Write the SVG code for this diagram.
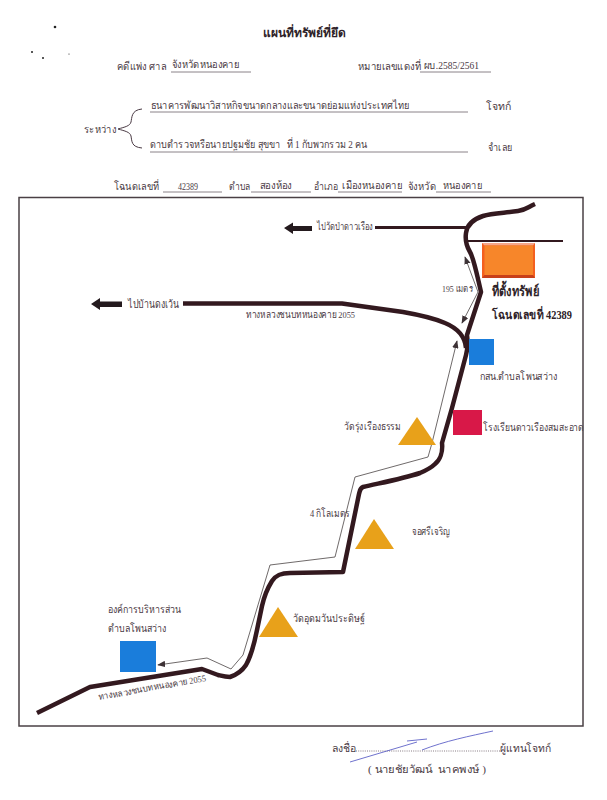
<svg xmlns="http://www.w3.org/2000/svg" width="607" height="800" viewBox="0 0 607 800">
<style>
text{font-family:"Liberation Serif","Noto Sans CJK SC","Noto Sans",serif;font-size:10.5px;fill:#4a3a44}
.b{font-weight:bold;fill:#2e2228}
.u{stroke:#8a8288;stroke-width:1;fill:none}
.road{fill:none;stroke:#33191f;stroke-width:4.500;stroke-linejoin:round;stroke-linecap:butt}
.thin{fill:none;stroke:#4a4444;stroke-width:.8}
.tri{fill:#e8a11a}
.blue{fill:#1a7ddb}
</style>
<defs>
<marker id="a" viewBox="0 0 10 8" refX="9" refY="4" markerWidth="8" markerHeight="6.5" orient="auto-start-reverse" markerUnits="userSpaceOnUse"><path d="M0 0L10 4L0 8Z" fill="#3d3236"/></marker>
</defs>
<rect width="607" height="800" fill="#fff"/>
<g id="specks" fill="#222"><circle cx="55" cy="27" r="1.300"/><circle cx="32" cy="52" r="1"/><circle cx="43" cy="58" r="1"/><circle cx="69" cy="54" r=".6"/></g>
<g id="header">
<text class="b" x="263" y="37" style="font-size:12px" textLength="83" lengthAdjust="spacingAndGlyphs">แผนที่ทรัพย์ที่ยึด</text>
<text x="117" y="70" textLength="49" lengthAdjust="spacingAndGlyphs">คดีแพ่ง ศาล</text>
<text x="172" y="68" textLength="67" lengthAdjust="spacingAndGlyphs">จังหวัดหนองคาย</text>
<path class="u" d="M171 72H251"/>
<text x="358" y="70" textLength="63" lengthAdjust="spacingAndGlyphs">หมายเลขแดงที่</text>
<text x="424" y="69" textLength="55" lengthAdjust="spacingAndGlyphs">ผบ.2585/2561</text>
<path class="u" d="M420 72H491"/>
<text x="151" y="109" textLength="258" lengthAdjust="spacingAndGlyphs">ธนาคารพัฒนาวิสาหกิจขนาดกลางและขนาดย่อมแห่งประเทศไทย</text>
<path class="u" d="M150 112H468"/>
<text x="486" y="110" textLength="25" lengthAdjust="spacingAndGlyphs">โจทก์</text>
<text x="84" y="133" textLength="32" lengthAdjust="spacingAndGlyphs">ระหว่าง</text>
<path d="M142 109C131 110 132 118 131 122C130 126 125 127 118 129C125 131 130 132 131 136C132 141 131 147 142 148" fill="none" stroke="#4a3a44" stroke-width="1"/>
<text x="150" y="148" xml:space="preserve" textLength="217" lengthAdjust="spacingAndGlyphs">ดาบตำรวจหรือนายปฐมชัย สุขขา   ที่ 1 กับพวกรวม 2 คน</text>
<path class="u" d="M150 152H468"/>
<text x="488" y="151" textLength="24" lengthAdjust="spacingAndGlyphs">จำเลย</text>
<text x="114" y="190" textLength="45" lengthAdjust="spacingAndGlyphs">โฉนดเลขที่</text>
<text x="178" y="190" textLength="20" lengthAdjust="spacingAndGlyphs">42389</text>
<path class="u" d="M163 192H222"/>
<text x="229" y="190" textLength="21" lengthAdjust="spacingAndGlyphs">ตำบล</text>
<text x="260" y="189" textLength="32" lengthAdjust="spacingAndGlyphs">สองห้อง</text>
<path class="u" d="M251 192H311"/>
<text x="314" y="190" textLength="24" lengthAdjust="spacingAndGlyphs">อำเภอ</text>
<text x="342" y="189" textLength="60" lengthAdjust="spacingAndGlyphs">เมืองหนองคาย</text>
<path class="u" d="M338 192H402"/>
<text x="408" y="190" textLength="28" lengthAdjust="spacingAndGlyphs">จังหวัด</text>
<text x="443" y="189" textLength="39" lengthAdjust="spacingAndGlyphs">หนองคาย</text>
<path class="u" d="M436 192H491"/>
</g>
<rect id="frame" x="19" y="197.500" width="564" height="528.500" fill="none" stroke="#4a4044" stroke-width="1.500"/>
<g id="connectors">
<path class="road" d="M535 204C528 207 526 210 518 211C505 213 492 213 483 216C474 219 467 225 466 233C465 240 467 247 470 252C474 259 477 275 481 292L467 335C468 343 468 348 466 355L452 408L442 443C443 452 440 460 435 464C431 468 427 470 420 473C402 479 380 483 363 487C360 488 360 490 359 494L343 572L290 573C281 573 276 575 272 581C267 589 264 597 262 606L257 630C254 645 250 658 246 665C242 671 236 675 230 677C225 677 222 676 218 675L202 669L90 687L37 713"/>
<path class="road" d="M183 303.500H342L403 312C420 315 436 319 445 323C457 328 465 336 466 348"/>
<path class="road" style="stroke-width:3" d="M375 227.500H467"/>
<path class="road" style="stroke-width:2" d="M468 241H563"/>
<path d="M284 228L293 222.500V226H312V231H293V234Z" fill="#241a1e"/>
<path d="M91 304L100 298V301.500H122V307H100V310Z" fill="#241a1e"/>
<path class="thin" marker-end="url(#a)" d="M432 443L428 457L355 477L335 557L270 565L243 655L231 669L207 658L158 665"/>
<path class="thin" marker-end="url(#a)" d="M432 443L457 341"/>
<path class="thin" marker-start="url(#a)" marker-end="url(#a)" d="M465 257L478 292L462 323"/>
</g>
<g id="property">
<rect x="482" y="243" width="53" height="35" fill="#f4601f"/>
<path d="M482 243H535L533 245.500H484.500Z" fill="#f5a68a"/>
<path d="M482 278H535L533 275H484.500Z" fill="#c8401a"/>
<rect x="484.500" y="245.500" width="48.500" height="29.500" fill="#f7862a"/>
<text class="b" x="492" y="296" style="font-size:14px" textLength="47" lengthAdjust="spacingAndGlyphs">ที่ตั้งทรัพย์</text>
<text class="b" x="492" y="319" style="font-size:12.500px" textLength="80" lengthAdjust="spacingAndGlyphs">โฉนดเลขที่ 42389</text>
</g>
<g id="labels">
<text x="317" y="230" textLength="56" lengthAdjust="spacingAndGlyphs">ไปวัดป่าดาวเรือง</text>
<text x="128" y="308" style="font-size:11px" textLength="51" lengthAdjust="spacingAndGlyphs">ไปบ้านดงเว้น</text>
<text x="246" y="318" style="font-size:9px" textLength="109" lengthAdjust="spacingAndGlyphs">ทางหลวงชนบทหนองคาย 2055</text>
<text x="442" y="292" style="font-size:9px" textLength="31" lengthAdjust="spacingAndGlyphs">195 เมตร</text>
<text x="310" y="517" textLength="40" lengthAdjust="spacingAndGlyphs">4 กิโลเมตร</text>
<text transform="translate(99 700) rotate(-10)" style="font-size:9px" textLength="109" lengthAdjust="spacingAndGlyphs">ทางหลวงชนบทหนองคาย 2055</text>
</g>
<g id="kosonor"><rect class="blue" x="469" y="339" width="25" height="26"/><text x="480" y="380" textLength="77" lengthAdjust="spacingAndGlyphs">กสน.ตำบลโพนสว่าง</text></g>
<g id="school"><rect x="453" y="410" width="29" height="25" fill="#d81848"/><text x="483" y="431" textLength="101" lengthAdjust="spacingAndGlyphs">โรงเรียนดาวเรืองสมสะอาด</text></g>
<g id="wat1"><path class="tri" d="M417 417L436 445H398Z"/><text x="344" y="430" textLength="57" lengthAdjust="spacingAndGlyphs">วัดรุ่งเรืองธรรม</text></g>
<g id="wat2"><path class="tri" d="M374 519L394 549H355Z"/><text x="412" y="535" textLength="38" lengthAdjust="spacingAndGlyphs">จอศรีเจริญ</text></g>
<g id="wat3"><path class="tri" d="M278 607L298 637H259Z"/><text x="293" y="622" textLength="72" lengthAdjust="spacingAndGlyphs">วัดอุดมวันประดิษฐ์</text></g>
<g id="sao"><rect class="blue" x="120" y="641" width="36" height="31"/><text x="108" y="613" textLength="73" lengthAdjust="spacingAndGlyphs">องค์การบริหารส่วน</text><text x="108" y="632" textLength="58" lengthAdjust="spacingAndGlyphs">ตำบลโพนสว่าง</text></g>
<g id="signature">
<text x="332" y="752" textLength="24" lengthAdjust="spacingAndGlyphs">ลงชื่อ</text>
<path d="M356 751H500" stroke="#6a5a64" stroke-width=".8" stroke-dasharray="1 1.200" fill="none"/>
<text x="500" y="752" textLength="51" lengthAdjust="spacingAndGlyphs">ผู้แทนโจทก์</text>
<text x="368" y="773" xml:space="preserve" textLength="118" lengthAdjust="spacingAndGlyphs">( นายชัยวัฒน์  นาคพงษ์ )</text>
<path d="M350 762L417 742M407 741L427 739M422 750C445 741 470 736 493 731" stroke="#4a4ec0" stroke-width=".8" fill="none"/>
</g>
</svg>
